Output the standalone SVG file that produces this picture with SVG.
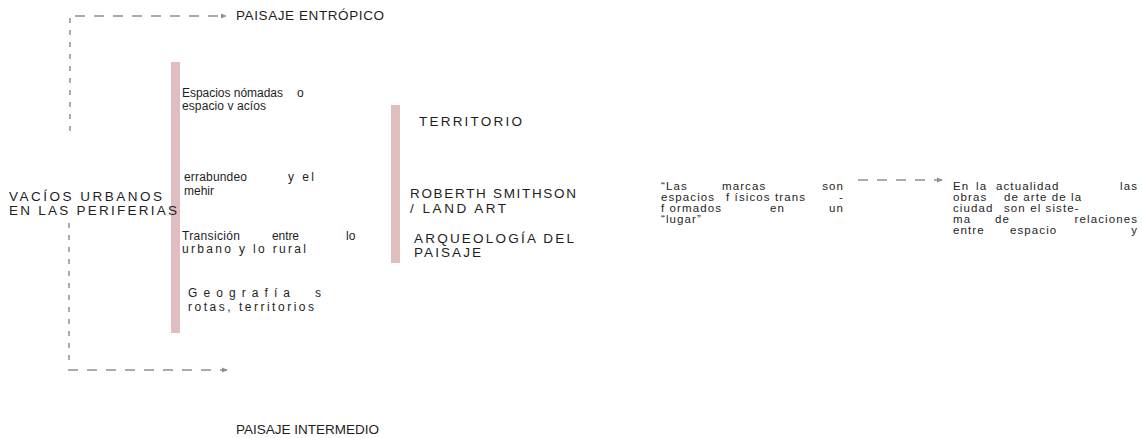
<svg xmlns="http://www.w3.org/2000/svg" width="1142" height="438" viewBox="0 0 1142 438">
<defs>
<style>
text{font-family:"Liberation Sans",Arial,sans-serif;fill:#1e1e1e;}
.h{font-size:13.5px;}
.b{font-size:12px;}
.r{font-size:11.5px;letter-spacing:1.1px;}
.bar{fill:#e0bdbe;}
.dash{fill:none;stroke:#909090;stroke-width:1.5;}
.dv{stroke-dasharray:5 7;}
.dh{stroke-dasharray:10 9;}
</style>
<marker id="ah" viewBox="0 0 6 6" refX="5" refY="3" markerWidth="6" markerHeight="6" orient="auto" markerUnits="userSpaceOnUse">
<path d="M0,0.5 L6,3 L0,5.5 z" fill="#909090"/>
</marker>
</defs>
<rect width="1142" height="438" fill="#ffffff"/>
<g id="connectors">
<path class="dash dv" d="M70,18 V131"/>
<path class="dash dh" d="M75,16 H226" marker-end="url(#ah)"/>
<path class="dash dv" d="M69,223 V364"/>
<path class="dash dh" d="M68,370 H227" marker-end="url(#ah)"/>
<path class="dash dh" d="M858,180 H942" marker-end="url(#ah)"/>
</g>
<g id="bars">
<rect class="bar" x="171" y="62" width="9" height="271"/>
<rect class="bar" x="391" y="105" width="9" height="158"/>
</g>
<g id="node-entropico"><text class="h" x="236" y="20" textLength="148" lengthAdjust="spacing">PAISAJE ENTRÓPICO</text></g>
<g id="node-vacios">
<text class="h" x="9" y="201" textLength="153" lengthAdjust="spacing">VACÍOS URBANOS</text>
<text class="h" x="9" y="215" textLength="168" lengthAdjust="spacing">EN LAS PERIFERIAS</text>
</g>
<g id="node-intermedio"><text class="h" x="236" y="434" textLength="143" lengthAdjust="spacing">PAISAJE INTERMEDIO</text></g>
<g id="node-espacios">
<text class="b" x="182" y="97" textLength="101" lengthAdjust="spacing">Espacios nómadas</text>
<text class="b" x="297" y="97">o</text>
<text class="b" x="182" y="110" textLength="84" lengthAdjust="spacing">espacio v acíos</text>
</g>
<g id="node-errabundeo">
<text class="b" x="184" y="181" textLength="63" lengthAdjust="spacing">errabundeo</text>
<text class="b" x="288" y="181" textLength="26" lengthAdjust="spacing">y el</text>
<text class="b" x="184" y="195" textLength="30" lengthAdjust="spacing">mehir</text>
</g>
<g id="node-transicion">
<text class="b" x="182" y="240" textLength="58" lengthAdjust="spacing">Transición</text>
<text class="b" x="272" y="240" textLength="27" lengthAdjust="spacing">entre</text>
<text class="b" x="346" y="240">lo</text>
<text class="b" x="182" y="253" textLength="124" lengthAdjust="spacing">urbano y lo rural</text>
</g>
<g id="node-geografias">
<text class="b" x="188" y="297" textLength="102" lengthAdjust="spacing">Geografía</text>
<text class="b" x="315" y="297">s</text>
<text class="b" x="188" y="311" textLength="126" lengthAdjust="spacing">rotas, territorios</text>
</g>
<g id="node-territorio"><text class="h" x="419" y="126" textLength="103" lengthAdjust="spacing">TERRITORIO</text></g>
<g id="node-smithson">
<text class="h" x="410" y="198" textLength="166" lengthAdjust="spacing">ROBERTH SMITHSON</text>
<text class="h" x="410" y="213" textLength="96" lengthAdjust="spacing">/ LAND ART</text>
</g>
<g id="node-arqueologia">
<text class="h" x="414" y="243" textLength="160" lengthAdjust="spacing">ARQUEOLOGÍA DEL</text>
<text class="h" x="414" y="257" textLength="67" lengthAdjust="spacing">PAISAJE</text>
</g>
<g id="node-marcas">
<text class="r" x="661" y="190">“Las</text>
<text class="r" x="722" y="190">marcas</text>
<text class="r" x="844" y="190" text-anchor="end">son</text>
<text class="r" x="661" y="201">espacios</text>
<text class="r" x="726" y="201">f ísicos</text>
<text class="r" x="775" y="201">trans</text>
<text class="r" x="844" y="201" text-anchor="end">-</text>
<text class="r" x="661" y="212">f ormados</text>
<text class="r" x="770" y="212">en</text>
<text class="r" x="844" y="212" text-anchor="end">un</text>
<text class="r" x="661" y="223">“lugar”</text>
</g>
<g id="node-actualidad">
<text class="r" x="953" y="190">En</text>
<text class="r" x="976" y="190">la</text>
<text class="r" x="996" y="190">actualidad</text>
<text class="r" x="1138" y="190" text-anchor="end">las</text>
<text class="r" x="953" y="201">obras</text>
<text class="r" x="1004" y="201">de arte de la</text>
<text class="r" x="953" y="212">ciudad</text>
<text class="r" x="1004" y="212">son el siste-</text>
<text class="r" x="953" y="223">ma</text>
<text class="r" x="995" y="223">de</text>
<text class="r" x="1138" y="223" text-anchor="end">relaciones</text>
<text class="r" x="953" y="234">entre</text>
<text class="r" x="1010" y="234">espacio</text>
<text class="r" x="1138" y="234" text-anchor="end">y</text>
</g>
</svg>
